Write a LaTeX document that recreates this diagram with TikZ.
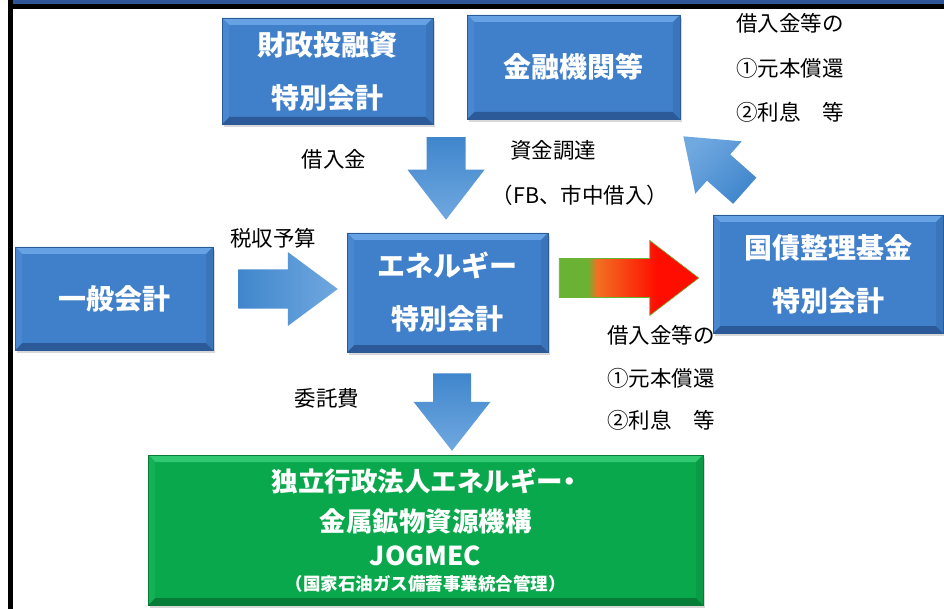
\documentclass[tikz,border=0pt]{standalone}
\usepackage{fontspec}
\setmainfont{Noto Sans CJK JP}
\newfontfamily\jp{Noto Sans CJK JP}
\usetikzlibrary{calc,shadows}
\definecolor{bxblue}{RGB}{64,127,202}
\definecolor{bxlight}{RGB}{102,162,228}
\definecolor{bxdark}{RGB}{44,90,152}
\definecolor{bxgreen}{RGB}{10,168,76}
\definecolor{bxglight}{RGB}{48,200,112}
\definecolor{bxgdark}{RGB}{6,124,54}
\definecolor{arrdark}{RGB}{64,134,204}
\definecolor{arrlight}{RGB}{112,168,224}
\definecolor{topband}{RGB}{47,85,151}
\definecolor{ggreen}{RGB}{106,178,52}
\definecolor{gorange}{RGB}{242,112,34}
\definecolor{gred}{RGB}{255,14,0}
\pgfdeclarehorizontalshading{grarrow}{100bp}{color(0bp)=(ggreen); color(35bp)=(ggreen); color(38.5bp)=(gorange); color(60bp)=(gred); color(100bp)=(gred)}
\newcommand\boxfont{\jp\bfseries\fontsize{28}{53}\selectfont}
\newcommand\lblfont{\jp\fontsize{21.5}{22}\selectfont}
\newcommand\blockarrow[6]{%
  \path[#1] let \p1=(#2), \p2=(#3),
    \n1={atan2(\y2-\y1,\x2-\x1)}, \n2={veclen(\x2-\x1,\y2-\y1)} in
    [shift={(\p1)}, rotate=\n1]
    (0pt,{-#4/2*1pt}) -- ({(\n2-#6)*1pt},{-#4/2*1pt}) -- ({(\n2-#6)*1pt},{-#5/2*1pt})
    -- ({\n2*1pt},0pt) -- ({(\n2-#6)*1pt},{#5/2*1pt}) -- ({(\n2-#6)*1pt},{#4/2*1pt})
    -- (0pt,{#4/2*1pt}) -- cycle;}
\tikzset{
  panel/.style n args={3}{rectangle, fill=#1, draw=#3, line width=.5pt, inner sep=0pt,
    text=white, align=center, font=\boxfont,
    drop shadow={opacity=.3, shadow xshift=2pt, shadow yshift=-3pt},
    path picture={
      \fill[#2] (path picture bounding box.north west) -- (path picture bounding box.north east)
        -- ([shift={(-7pt,-7pt)}]path picture bounding box.north east)
        -- ([shift={(7pt,-7pt)}]path picture bounding box.north west) -- cycle;
      \fill[#3] (path picture bounding box.south west) -- (path picture bounding box.south east)
        -- ([shift={(-7pt,7pt)}]path picture bounding box.south east)
        -- ([shift={(7pt,7pt)}]path picture bounding box.south west) -- cycle;
      \fill[#1!75!#2] (path picture bounding box.north west) -- ([shift={(7pt,-7pt)}]path picture bounding box.north west)
        -- ([shift={(7pt,7pt)}]path picture bounding box.south west) -- (path picture bounding box.south west) -- cycle;
      \fill[#1!70!#3] (path picture bounding box.north east) -- ([shift={(-7pt,-7pt)}]path picture bounding box.north east)
        -- ([shift={(-7pt,7pt)}]path picture bounding box.south east) -- (path picture bounding box.south east) -- cycle;
    }},
  bluebox/.style={panel={bxblue}{bxlight}{bxdark}},
  greenbox/.style={panel={bxgreen}{bxglight}{bxgdark}},
  lbl/.style={font=\lblfont, inner sep=0pt, text=black},
  jogtxt/.style={font=\jp\bfseries\fontsize{26.5}{27}\selectfont, inner sep=0pt, text=white},
  bluev/.style={top color=arrdark, bottom color=arrlight},
  blueh/.style={left color=arrdark, right color=arrlight},
  bluediag/.style={top color=arrlight, bottom color=arrdark, shading angle=45},
  gradarrow/.style={shade, shading=grarrow, draw=ggreen, line width=.6pt}
}
\begin{document}
\begin{tikzpicture}[x=1pt,y=-1pt]
\useasboundingbox (0,0) rectangle (944,609);
\fill[white] (0,0) rectangle (944,609);
\fill[topband] (13,0) rectangle (944,4);
\fill[black] (8,4) rectangle (944,9);
\fill[black] (8,0) rectangle (13,609);

\node[bluebox, minimum width=211pt, minimum height=106pt] (zaito) at (327.5,71) {財政投融資\\特別会計};
\node[bluebox, minimum width=213pt, minimum height=104pt] (kinyu) at (573.5,67) {金融機関等};
\node[bluebox, minimum width=198pt, minimum height=103pt] (ippan) at (114,298.5) {一般会計};
\node[bluebox, minimum width=201pt, minimum height=119pt] (energy) at (447.5,292.5) {エネルギー\\特別会計};
\node[bluebox, minimum width=230pt, minimum height=118pt] (kokusai) at (828,274) {国債整理基金\\特別会計};
\node[greenbox, minimum width=555pt, minimum height=150pt] (jog) at (425.5,530) {};
\node[jogtxt] (j1) at ($(jog.north)+(-2,26)$) {独立行政法人エネルギー\kern-7pt・\kern-7pt};
\node[jogtxt] (j2) at ($(jog.north)+(0,67)$) {金属鉱物資源機構};
\node[jogtxt, font=\jp\bfseries\fontsize{26}{27}\selectfont] (j3) at ($(jog.north)+(0,101)$) {JOGMEC};
\node[jogtxt, font=\jp\bfseries\fontsize{17.5}{18}\selectfont] (j4) at ($(jog.north)+(0,129)$) {（国家石油ガス備蓄事業統合管理）};

\node[lbl, anchor=west] (tr1) at (736,23) {借入金等の};
\node[lbl, anchor=west] (tr2) at (736,68) {①元本償還};
\node[lbl, anchor=west] (tr3) at (736,112) {②利息　等};
\node[lbl, anchor=west] (md1) at (607,335) {借入金等の};
\node[lbl, anchor=west] (md2) at (607,378) {①元本償還};
\node[lbl, anchor=west] (md3) at (607,420) {②利息　等};
\node[lbl] (l1) at (334,159) {借入金};
\node[lbl] (l2) at (553,150) {資金調達};
\node[lbl] (l3) at (580,195) {（FB、市中借入）};
\node[lbl] (l4) at (273,238) {税収予算};
\node[lbl] (l5) at (327,398) {委託費};

\coordinate (a1s) at ($(energy.north |- zaito.south)+(-1.5,13)$);
\coordinate (a1e) at ($(energy.north)+(-1.5,-13)$);
\coordinate (a2s) at ($(ippan.east)+(25,-9.5)$);
\coordinate (a2e) at ($(energy.west)+(-9,-3.5)$);
\coordinate (a3s) at ($(energy.east)+(11,-14.5)$);
\coordinate (a3e) at ($(kokusai.west)+(-14,4)$);
\coordinate (a4s) at ($(kokusai.north west)+(32,-24)$);
\coordinate (a4e) at ($(kinyu.south east)+(3,17)$);
\coordinate (a5s) at ($(energy.south)+(4.5,21)$);
\coordinate (a5e) at ($(a5s |- jog.north)+(0,-4)$);

\blockarrow{bluev}{a1s}{a1e}{39}{77}{50}
\blockarrow{blueh}{a2s}{a2e}{39}{74}{50}
\blockarrow{gradarrow}{a3s}{a3e}{39}{75}{49}
\blockarrow{bluediag}{a4s}{a4e}{35}{70}{47}
\blockarrow{bluev}{a5s}{a5e}{38}{77}{49}
\end{tikzpicture}
\end{document}
